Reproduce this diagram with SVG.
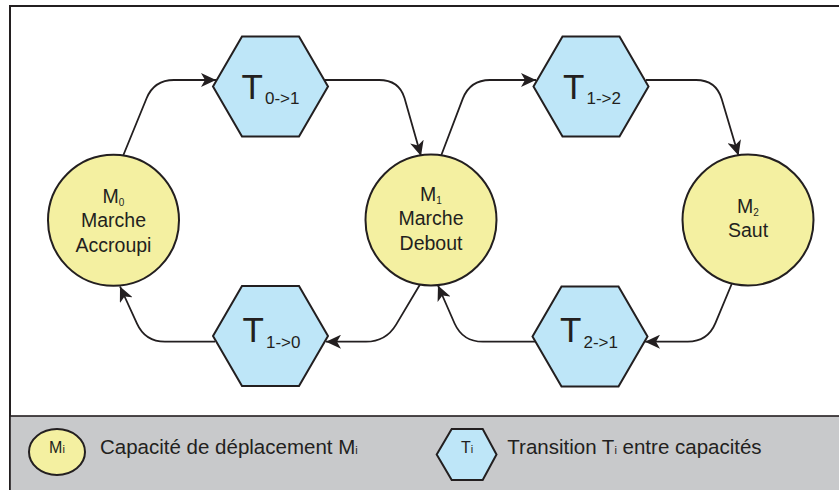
<svg xmlns="http://www.w3.org/2000/svg" width="839" height="490" viewBox="0 0 839 490">
  <style>
    .frame { fill: #ffffff; stroke: #231f20; stroke-width: 2; }
    .legend-band { fill: #c8c9cb; stroke: #231f20; stroke-width: 1.6; }
    .cap { fill: #f4f0a1; stroke: #231f20; stroke-width: 2; }
    .trans { fill: #bee6f8; stroke: #231f20; stroke-width: 2; }
    .edge { fill: none; stroke: #231f20; stroke-width: 1.8; marker-end: url(#arrow); }
    text { font-family: "Liberation Sans", Arial, sans-serif; fill: #231f20; }
    .lbl { font-size: 19.5px; text-anchor: middle; }
    .sub { font-size: 10px; }
    .tname { font-size: 35px; text-anchor: middle; }
    .tsub { font-size: 17px; }
    .leg { font-size: 20.5px; }
  </style>
  <defs>
    <marker id="arrow" markerUnits="userSpaceOnUse" markerWidth="16" markerHeight="14" refX="15" refY="7" orient="auto">
      <path d="M0,0 L15,7 L0,14 L4,7 Z" fill="#231f20"/>
    </marker>
  </defs>

  <!-- frame and legend band -->
  <rect class="frame" x="10" y="6" width="840" height="490"/>
  <rect class="legend-band" x="10" y="416" width="840" height="80"/>

  <!-- connectors -->
  <g id="connectors">
    <path class="edge" d="M123,156 L146.5,98.5 Q154,80 174,80 L216,80"/>
    <path class="edge" d="M325,80 L379,80 Q399,80 404.5,98 L421,156"/>
    <path class="edge" d="M441,156 L462.8,98.6 Q470.2,80 490,80 L536,80"/>
    <path class="edge" d="M646,80 L696,80 Q716,80 721.7,99 L738.5,155.5"/>
    <path class="edge" d="M731.7,284 L715.4,323.2 Q707.7,341.7 687.7,341.7 L645,341.7"/>
    <path class="edge" d="M535,341.7 L482.8,341.7 Q462.8,341.7 454.6,323.5 L438,285.5"/>
    <path class="edge" d="M420,284.5 L396.1,324.6 Q385.8,341.7 366,341.7 L326,341.7"/>
    <path class="edge" d="M215,341.7 L165,341.7 Q145.2,341.7 137,323.6 L120,286.5"/>
  </g>

  <!-- capabilities -->
  <g id="M0">
    <circle class="cap" cx="113.5" cy="220.3" r="65.5"/>
    <text class="lbl" x="113.5" y="202.7">M<tspan class="sub" dy="3">0</tspan></text>
    <text class="lbl" x="113.5" y="227.3">Marche</text>
    <text class="lbl" x="113.5" y="251.7">Accroupi</text>
  </g>
  <g id="M1">
    <circle class="cap" cx="431" cy="220" r="65.5"/>
    <text class="lbl" x="431" y="200.7">M<tspan class="sub" dy="3">1</tspan></text>
    <text class="lbl" x="431" y="225">Marche</text>
    <text class="lbl" x="431" y="250">Debout</text>
  </g>
  <g id="M2">
    <circle class="cap" cx="748" cy="220" r="65.5"/>
    <text class="lbl" x="748" y="213.3">M<tspan class="sub" dy="3">2</tspan></text>
    <text class="lbl" x="748" y="237.3">Saut</text>
  </g>

  <!-- transitions -->
  <g id="T01">
    <polygon class="trans" points="213,86.5 242,36.5 299,36.5 328,86.5 299,136.5 242,136.5"/>
    <text class="tname" x="270.5" y="99">T<tspan class="tsub" dx="2" dy="5">0-&gt;1</tspan></text>
  </g>
  <g id="T12">
    <polygon class="trans" points="533.5,86.5 562.5,36.5 619.5,36.5 648.5,86.5 619.5,136.5 562.5,136.5"/>
    <text class="tname" x="592" y="99">T<tspan class="tsub" dx="2" dy="5">1-&gt;2</tspan></text>
  </g>
  <g id="T10">
    <polygon class="trans" points="213,336 242,286 299,286 328,336 299,386 242,386"/>
    <text class="tname" x="271.5" y="341.7">T<tspan class="tsub" dx="2" dy="6">1-&gt;0</tspan></text>
  </g>
  <g id="T21">
    <polygon class="trans" points="532.5,336.5 561.5,286.5 618.5,286.5 647.5,336.5 618.5,386.5 561.5,386.5"/>
    <text class="tname" x="589" y="341.7">T<tspan class="tsub" dx="2" dy="6">2-&gt;1</tspan></text>
  </g>

  <!-- legend -->
  <g id="legend-capability">
    <ellipse class="cap" cx="57" cy="452" rx="28" ry="23"/>
    <text x="57" y="453.3" style="font-size:16px;text-anchor:middle">M<tspan style="font-size:11px">i</tspan></text>
    <text class="leg" x="100" y="454.3">Capacité de déplacement M<tspan style="font-size:11px">i</tspan></text>
  </g>
  <g id="legend-transition">
    <polygon class="trans" points="436.7,454.5 451.7,429 482.7,429 496.5,454.5 482.7,480 451.7,480"/>
    <text x="467" y="453.3" style="font-size:16px;text-anchor:middle">T<tspan style="font-size:11px">i</tspan></text>
    <text class="leg" x="507.3" y="454.3">Transition T<tspan style="font-size:11px">i</tspan> entre capacités</text>
  </g>
</svg>
